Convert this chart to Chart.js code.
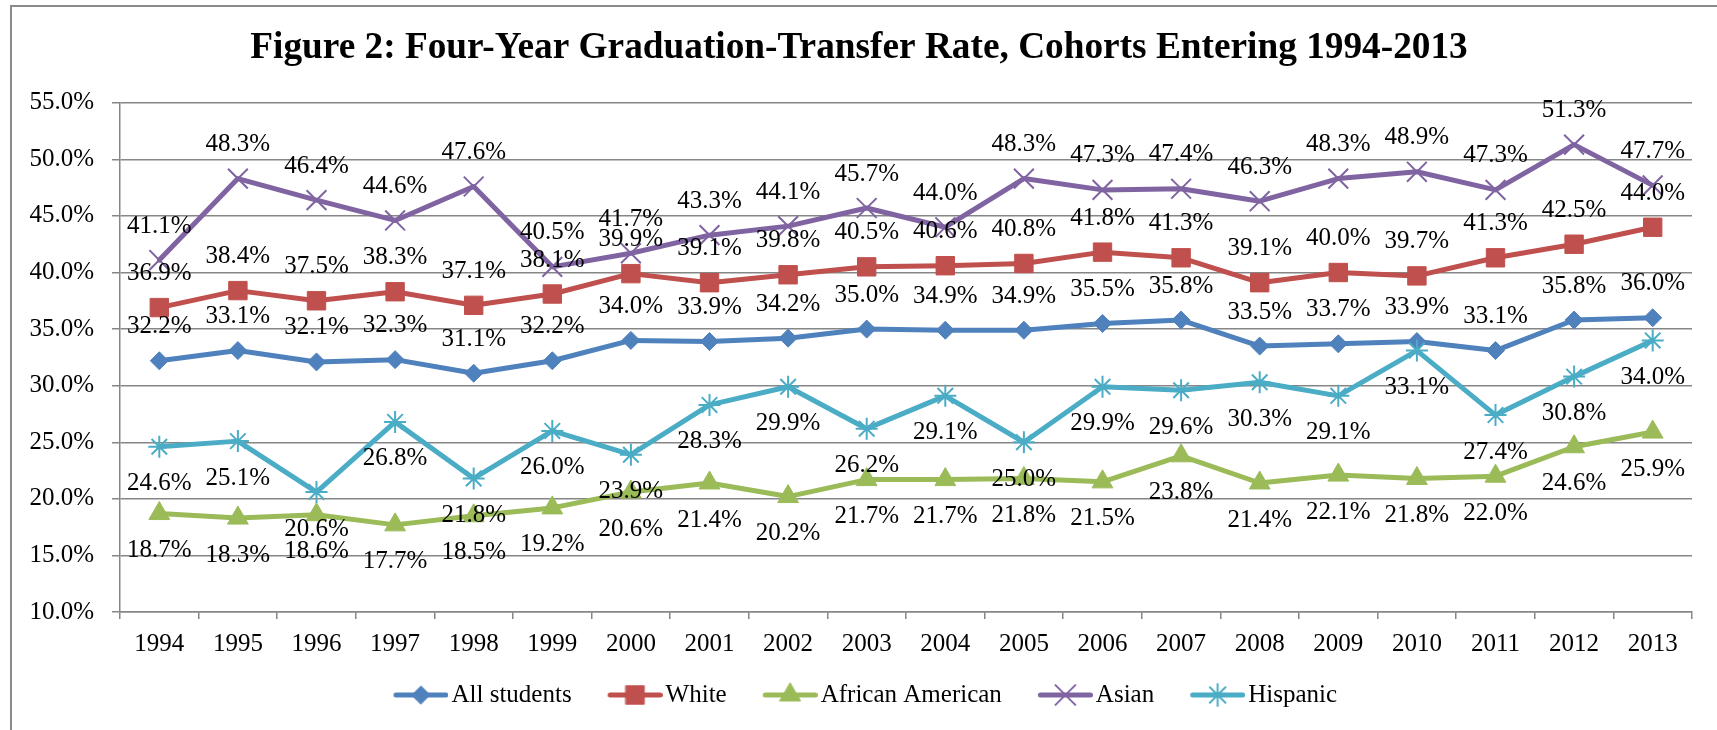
<!DOCTYPE html>
<html>
<head>
<meta charset="utf-8">
<title>Figure 2</title>
<script src="https://cdn.jsdelivr.net/npm/chart.js@4.4.1/dist/chart.umd.min.js"></script>
<style>
  body { margin: 0; background: #fff; }
  canvas { display: block; }
</style>
</head>
<body>
<canvas id="gradChart" width="1717" height="730"></canvas>
<script>
const years = ['1994', '1995', '1996', '1997', '1998', '1999', '2000', '2001', '2002', '2003',
    '2004', '2005', '2006', '2007', '2008', '2009', '2010', '2011', '2012', '2013'];
const allStudents = [32.2, 33.1, 32.1, 32.3, 31.1, 32.2, 34.0, 33.9, 34.2, 35.0,
    34.9, 34.9, 35.5, 35.8, 33.5, 33.7, 33.9, 33.1, 35.8, 36.0];
const white = [36.9, 38.4, 37.5, 38.3, 37.1, 38.1, 39.9, 39.1, 39.8, 40.5,
    40.6, 40.8, 41.8, 41.3, 39.1, 40.0, 39.7, 41.3, 42.5, 44.0];
const africanAmerican = [18.7, 18.3, 18.6, 17.7, 18.5, 19.2, 20.6, 21.4, 20.2, 21.7,
    21.7, 21.8, 21.5, 23.8, 21.4, 22.1, 21.8, 22.0, 24.6, 25.9];
const asian = [41.1, 48.3, 46.4, 44.6, 47.6, 40.5, 41.7, 43.3, 44.1, 45.7,
    44.0, 48.3, 47.3, 47.4, 46.3, 48.3, 48.9, 47.3, 51.3, 47.7];
const hispanic = [24.6, 25.1, 20.6, 26.8, 21.8, 26.0, 23.9, 28.3, 29.9, 26.2,
    29.1, 25.0, 29.9, 29.6, 30.3, 29.1, 33.1, 27.4, 30.8, 34.0];
const yMin = 10, yMax = 55, yStep = 5;

const FONT = '"Liberation Serif", "Times New Roman", serif';
Chart.defaults.font.family = FONT;
Chart.defaults.color = '#000';

function series(label, data, color, style, radius, labelSide, order) {
    return {
        label: label,
        data: data,
        borderColor: color,
        backgroundColor: color,
        pointBackgroundColor: color,
        pointBorderColor: color,
        pointStyle: style,
        pointRadius: radius,
        pointBorderWidth: (style === 'crossRot' || style === 'star') ? 2 : 1,
        borderWidth: 5,
        borderJoinStyle: 'round',
        borderCapStyle: 'round',
        tension: 0,
        fill: false,
        order: order,
        labelSide: labelSide
    };
}

const datasets = [
    series('All students', allStudents, '#4F81BD', 'rectRot', 9, 'above', 5),
    series('White', white, '#C0504D', 'rect', 13, 'above', 4),
    series('African American', africanAmerican, '#9BBB59', 'triangle', 12, 'below', 3),
    series('Asian', asian, '#8064A2', 'crossRot', 14, 'above', 2),
    series('Hispanic', hispanic, '#4BACC6', 'star', 11, 'below', 1)
];

// line + marker swatch for the legend; the blank left part widens the gap between items
function legendSwatch(ds) {
    const c = document.createElement('canvas');
    c.width = 77;
    c.height = 28;
    const g = c.getContext('2d');
    g.strokeStyle = ds.borderColor;
    g.lineWidth = 5;
    g.lineCap = 'round';
    g.beginPath();
    g.moveTo(24.5, 14);
    g.lineTo(74.5, 14);
    g.stroke();
    g.fillStyle = ds.pointBackgroundColor;
    g.strokeStyle = ds.pointBorderColor;
    g.lineWidth = ds.pointBorderWidth;
    Chart.helpers.drawPoint(g, {pointStyle: ds.pointStyle, radius: ds.pointRadius, rotation: 0, borderWidth: ds.pointBorderWidth}, 49.5, 14);
    return c;
}

const framePlugin = {
    id: 'frame',
    beforeDraw(chart) {
        const ctx = chart.ctx;
        ctx.save();
        ctx.fillStyle = '#fff';
        ctx.fillRect(0, 0, chart.width, chart.height);
        ctx.strokeStyle = '#8a8a8a';
        ctx.lineWidth = 2;
        ctx.strokeRect(11, 6, chart.width + 20, chart.height + 20);
        ctx.restore();
    }
};

const valueLabels = {
    id: 'valueLabels',
    afterDatasetsDraw(chart) {
        const ctx = chart.ctx;
        ctx.save();
        ctx.font = '25px ' + FONT;
        ctx.fillStyle = '#000';
        ctx.textAlign = 'center';
        ctx.textBaseline = 'middle';
        chart.data.datasets.forEach((ds, i) => {
            const meta = chart.getDatasetMeta(i);
            const dy = ds.labelSide === 'below' ? 37 : -34;
            meta.data.forEach((pt, j) => {
                ctx.fillText(ds.data[j].toFixed(1) + '%', pt.x, pt.y + dy);
            });
        });
        ctx.restore();
    }
};

const ctx = document.getElementById('gradChart').getContext('2d');
const gradChart = new Chart(ctx, {
    type: 'line',
    data: {
        labels: years,
        datasets: datasets
    },
    options: {
        responsive: false,
        animation: false,
        layout: {
            padding: {left: 26, right: 25, top: 0, bottom: 12.5}
        },
        plugins: {
            title: {
                display: true,
                text: 'Figure 2: Four-Year Graduation-Transfer Rate, Cohorts Entering 1994-2013',
                color: '#000',
                font: {size: 37.3, weight: 'bold', family: FONT, lineHeight: 1.2},
                padding: {top: 26, bottom: 32}
            },
            legend: {
                position: 'bottom',
                labels: {
                    usePointStyle: true,
                    pointStyleWidth: 58,
                    padding: 23.5,
                    color: '#000',
                    font: {size: 25, family: FONT},
                    generateLabels: function (chart) {
                        return chart.data.datasets.map((ds, i) => ({
                            text: ds.label,
                            pointStyle: legendSwatch(ds),
                            fillStyle: ds.borderColor,
                            strokeStyle: ds.borderColor,
                            lineWidth: 0,
                            hidden: false,
                            datasetIndex: i,
                            fontColor: '#000'
                        }));
                    }
                }
            },
            tooltip: {enabled: false}
        },
        scales: {
            x: {
                offset: true,
                afterFit: function (scale) { scale.height = 47; },
                grid: {
                    offset: true,
                    drawOnChartArea: false,
                    tickLength: 7,
                    color: '#868686',
                    lineWidth: 1.5
                },
                border: {color: '#868686', width: 1.5},
                ticks: {
                    autoSkip: false,
                    maxRotation: 0,
                    padding: 10,
                    font: {size: 25, family: FONT}
                }
            },
            y: {
                min: yMin,
                max: yMax,
                afterFit: function (scale) { scale.width = 94; },
                grid: {
                    tickLength: 8,
                    color: '#868686',
                    lineWidth: 1.5
                },
                border: {color: '#868686', width: 1.5},
                ticks: {
                    stepSize: yStep,
                    padding: 18,
                    font: {size: 25, family: FONT},
                    callback: v => v.toFixed(1) + '%'
                }
            }
        }
    },
    plugins: [framePlugin, valueLabels]
});
</script>
</body>
</html>
